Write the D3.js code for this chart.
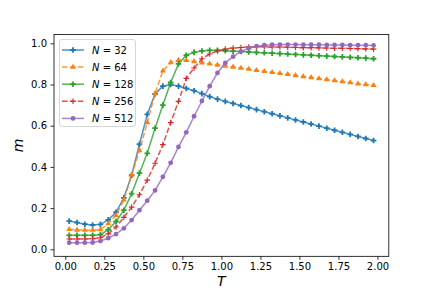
<!DOCTYPE html>
<html>
<head>
<meta charset="utf-8">
<script src="https://cdn.jsdelivr.net/npm/d3@7"></script>
<style>
  body { margin: 0; background: #fff; }
  text { font-family: "DejaVu Sans", sans-serif; }
</style>
</head>
<body>
<svg id="chart" width="432" height="288"></svg>
<script>
// temperatures (x) and magnetisation per lattice size
const temps = [0.025, 0.075, 0.125, 0.175, 0.225, 0.275, 0.325, 0.375, 0.425, 0.475,
               0.525, 0.575, 0.625, 0.675, 0.725, 0.775, 0.825, 0.875, 0.925, 0.975,
               1.025, 1.075, 1.125, 1.175, 1.225, 1.275, 1.325, 1.375, 1.425, 1.475,
               1.525, 1.575, 1.625, 1.675, 1.725, 1.775, 1.825, 1.875, 1.925, 1.975]

const m32 = [0.137, 0.130, 0.122, 0.118, 0.121, 0.143, 0.180, 0.250, 0.360, 0.510,
             0.655, 0.754, 0.792, 0.800, 0.792, 0.781, 0.770, 0.756, 0.741, 0.729,
             0.718, 0.708, 0.698, 0.688, 0.678, 0.668, 0.658, 0.648, 0.638, 0.628,
             0.618, 0.608, 0.598, 0.588, 0.578, 0.568, 0.558, 0.548, 0.538, 0.528]
const m64 = [0.097, 0.094, 0.093, 0.093, 0.096, 0.125, 0.165, 0.240, 0.360, 0.480,
             0.615, 0.756, 0.866, 0.907, 0.918, 0.917, 0.912, 0.906, 0.900, 0.895,
             0.890, 0.885, 0.880, 0.875, 0.869, 0.864, 0.859, 0.854, 0.849, 0.844,
             0.839, 0.834, 0.829, 0.824, 0.819, 0.814, 0.809, 0.804, 0.800, 0.796]
const m128 = [0.068, 0.068, 0.068, 0.068, 0.071, 0.095, 0.135, 0.190, 0.270, 0.370,
              0.466, 0.588, 0.700, 0.810, 0.900, 0.942, 0.956, 0.963, 0.966, 0.966,
              0.964, 0.962, 0.960, 0.958, 0.956, 0.954, 0.952, 0.950, 0.948, 0.946,
              0.944, 0.942, 0.940, 0.938, 0.936, 0.934, 0.932, 0.930, 0.928, 0.925]
const m256 = [0.050, 0.050, 0.050, 0.051, 0.056, 0.075, 0.108, 0.155, 0.205, 0.265,
              0.336, 0.418, 0.508, 0.615, 0.718, 0.830, 0.880, 0.925, 0.948, 0.963,
              0.972, 0.977, 0.980, 0.982, 0.983, 0.983, 0.982, 0.982, 0.981, 0.980,
              0.979, 0.979, 0.978, 0.977, 0.976, 0.976, 0.975, 0.974, 0.973, 0.972]
const m512 = [0.032, 0.032, 0.032, 0.033, 0.040, 0.054, 0.074, 0.102, 0.142, 0.190,
              0.236, 0.286, 0.352, 0.420, 0.497, 0.568, 0.646, 0.720, 0.792, 0.856,
              0.905, 0.935, 0.960, 0.976, 0.986, 0.991, 0.993, 0.994, 0.994, 0.994,
              0.993, 0.993, 0.993, 0.992, 0.992, 0.992, 0.991, 0.991, 0.991, 0.990]

const sizes = ["32", "64", "128", "256", "512"]
const colours = ["#1f77b4", "#ff7f0e", "#2ca02c", "#d62728", "#9467bd"]
const dashes = [null, "5.5,2.4", null, "5.5,2.4", null]
const markers = ["pfill", "tri", "pfill", "plus", "circle"]
const xTicks = [0, 0.25, 0.5, 0.75, 1.0, 1.25, 1.5, 1.75, 2.0]
const yTicks = [0, 0.2, 0.4, 0.6, 0.8, 1.0]

const series = [m32, m64, m128, m256, m512]

const axLeft = 54, axRight = 388.8, axTop = 34.56, axBottom = 256.32

const x = d3.scaleLinear().domain([-0.0725, 2.0725]).range([axLeft, axRight])
const y = d3.scaleLinear().domain([-0.034, 1.0425]).range([axBottom, axTop])

const svg = d3.select("#chart")

// marker shapes, in pixels around (0,0)
function markerPath(kind) {
  if (kind == "pfill") {
    const a = 2.8, b = 0.9
    return `M${-b},${-a}H${b}V${-b}H${a}V${b}H${b}V${a}H${-b}V${b}H${-a}V${-b}H${-b}Z`
  }
  if (kind == "tri") return d3.symbol(d3.symbolTriangle, 15)()
  if (kind == "circle") return d3.symbol(d3.symbolCircle, 18)()
  return "M-2.8,0H2.8M0,-2.8V2.8"
}

function drawMarker(g, kind, col) {
  const p = g.append("path").attr("d", markerPath(kind))
  if (kind == "plus") p.attr("fill", "none").attr("stroke", col).attr("stroke-width", 1.1)
  else p.attr("fill", col)
}

const line = d3.line().x((d, i) => x(temps[i])).y(d => y(d))

const plot = svg.append("g")
series.forEach((vals, k) => {
  const g = plot.append("g")
  g.append("path")
    .attr("d", line(vals))
    .attr("fill", "none")
    .attr("stroke", colours[k])
    .attr("stroke-opacity", 0.8)
    .attr("stroke-width", 1.5)
    .attr("stroke-dasharray", dashes[k])
  g.selectAll("g.pt")
    .data(vals)
    .join("g")
    .attr("class", "pt")
    .attr("transform", (d, i) => `translate(${x(temps[i])},${y(d)})`)
    .each(function () { drawMarker(d3.select(this), markers[k], colours[k]) })
})

// axes
svg.append("g")
  .attr("transform", `translate(0,${axBottom})`)
  .call(d3.axisBottom(x).tickValues(xTicks).tickFormat(d3.format(".2f")).tickSize(3.5).tickPadding(3.5))
svg.append("g")
  .attr("transform", `translate(${axLeft},0)`)
  .call(d3.axisLeft(y).tickValues(yTicks).tickFormat(d3.format(".1f")).tickSize(3.5).tickPadding(3.5))

svg.selectAll(".domain").remove()
svg.selectAll(".tick line").attr("stroke", "#000").attr("stroke-width", 0.8)
svg.selectAll(".tick text").attr("fill", "#000").style("font-size", "10px").style("font-family", "DejaVu Sans")

svg.append("rect")
  .attr("x", axLeft).attr("y", axTop)
  .attr("width", axRight - axLeft).attr("height", axBottom - axTop)
  .attr("fill", "none").attr("stroke", "#000").attr("stroke-width", 0.8)

// axis labels
svg.append("text")
  .attr("x", (axLeft + axRight) / 2).attr("y", 285.5)
  .attr("text-anchor", "middle")
  .style("font-size", "14px").style("font-style", "italic")
  .text("T")
svg.append("text")
  .attr("transform", `translate(23,${(axTop + axBottom) / 2}) rotate(-90)`)
  .attr("text-anchor", "middle")
  .style("font-size", "14px").style("font-style", "italic")
  .text("m")

// legend
const leg = svg.append("g")
leg.append("rect")
  .attr("x", 59.5).attr("y", 39.5).attr("width", 76).attr("height", 87)
  .attr("rx", 2.5)
  .attr("fill", "#fff").attr("fill-opacity", 0.8)
  .attr("stroke", "#ccc").attr("stroke-width", 0.8)

sizes.forEach((n, k) => {
  const ly = 50 + k * 17.1
  const row = leg.append("g")
  row.append("line")
    .attr("x1", 62).attr("x2", 84).attr("y1", ly).attr("y2", ly)
    .attr("stroke", colours[k]).attr("stroke-opacity", 0.8).attr("stroke-width", 1.5)
    .attr("stroke-dasharray", dashes[k])
  const mk = row.append("g").attr("transform", `translate(73,${ly})`)
  drawMarker(mk, markers[k], colours[k])
  const t = row.append("text")
    .attr("x", 92).attr("y", ly + 3.6)
    .style("font-size", "10px")
  t.append("tspan").style("font-style", "italic").text("N")
  t.append("tspan").text(" = " + n)
})
</script>
</body>
</html>
